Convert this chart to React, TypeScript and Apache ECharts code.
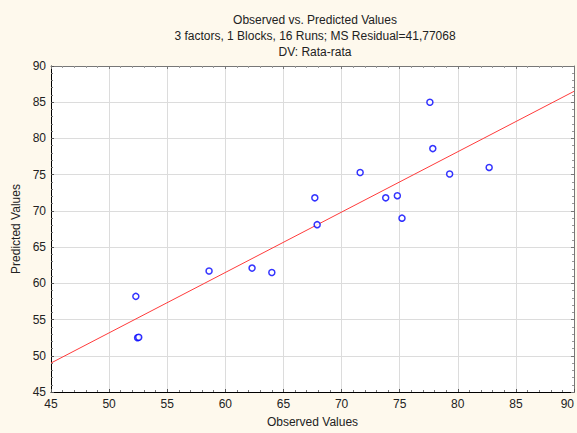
import React, { useEffect, useRef } from "react";
import * as echarts from "echarts";

const titleLines = [
  "Observed vs. Predicted Values",
  "3 factors, 1 Blocks, 16 Runs; MS Residual=41,77068",
  "DV: Rata-rata",
];
const observed = [52.3, 52.45, 52.55, 58.6, 62.3, 64.0, 67.9, 67.7, 71.6, 73.8, 74.8, 75.2, 77.6, 77.85, 79.3, 82.7];
const predicted = [58.2, 52.5, 52.55, 61.7, 62.1, 61.5, 68.1, 71.8, 75.3, 71.8, 72.1, 69.0, 85.0, 78.6, 75.1, 76.0];
const fitX = [45, 90];
const fitY = [49.0, 86.5];
const axisMin = 45;
const axisMax = 90;
const axisStep = 5;

export default function App() {
  const ref = useRef<HTMLDivElement>(null);
  useEffect(() => {
    if (!ref.current) return;
    const chart = echarts.init(ref.current, undefined, { renderer: "svg" });
    const font = "'Liberation Sans', Arial, sans-serif";
    const mainAxis = (pos: string, name: string, isY: boolean) => ({
      type: "value",
      position: pos,
      min: axisMin,
      max: axisMax,
      interval: axisStep,
      name,
      nameLocation: "middle",
      nameGap: isY ? 28 : 24,
      nameTextStyle: { fontFamily: font, fontSize: 12, color: "#222" },
      axisLine: { show: true, onZero: false, lineStyle: { color: "#000", width: 1 } },
      axisTick: { show: true, inside: true, length: 3, lineStyle: { color: "#555" } },
      minorTick: { show: true, splitNumber: 5, length: 2, lineStyle: { color: "#777" } },
      axisLabel: {
        fontFamily: font,
        fontSize: 12,
        color: "#222",
        margin: isY ? 5 : 6,
        hideOverlap: false,
        alignMaxLabel: isY ? undefined : "right",
      },
      splitLine: { show: true, lineStyle: { color: "#dcdcdc", width: 1 } },
    });
    const frameAxis = (pos: string) => ({
      type: "value",
      position: pos,
      min: axisMin,
      max: axisMax,
      interval: axisStep,
      axisLine: { show: true, onZero: false, lineStyle: { color: "#777", width: 1 } },
      axisTick: { show: true, inside: true, length: 3, lineStyle: { color: "#777" } },
      minorTick: { show: true, splitNumber: 5, length: 2, lineStyle: { color: "#999" } },
      axisLabel: { show: false },
      splitLine: { show: false },
    });
    chart.setOption({
      animation: false,
      backgroundColor: "#fef9ed",
      title: titleLines.map((t, i) => ({
        text: t,
        left: 310,
        textAlign: "center",
        top: 9 + i * 16,
        textStyle: { fontFamily: font, fontSize: 12, fontWeight: "normal", color: "#222" },
      })),
      grid: {
        left: 51,
        right: 3,
        top: 66,
        bottom: 41,
        show: true,
        backgroundColor: "#fff",
        borderWidth: 0,
        containLabel: false,
        outerBoundsMode: "none",
      },
      xAxis: [mainAxis("bottom", "Observed Values", false), frameAxis("top")],
      yAxis: [mainAxis("left", "Predicted Values", true), frameAxis("right")],
      series: [
        {
          type: "line",
          data: fitX.map((x, i) => [x, fitY[i]]),
          symbol: "none",
          lineStyle: { color: "#ff3b3b", width: 1 },
          silent: true,
          z: 2,
        },
        {
          type: "scatter",
          data: observed.map((x, i) => [x, predicted[i]]),
          symbol: "circle",
          symbolSize: 6,
          itemStyle: { color: "#fff", borderColor: "#0000ff", borderWidth: 1.5 },
          z: 3,
        },
      ],
    });
    return () => chart.dispose();
  }, []);
  return <div ref={ref} style={{ position: "fixed", left: 0, top: 0, width: 577, height: 433 }} />;
}
